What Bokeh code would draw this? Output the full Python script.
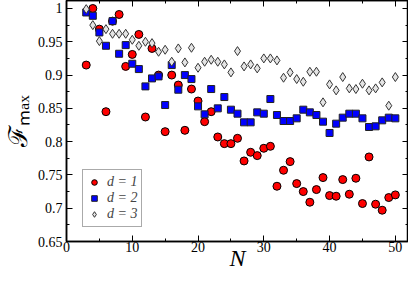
from bokeh.plotting import figure
from bokeh.models import (Range1d, LinearAxis, SingleIntervalTicker, Legend,
                          LegendItem, CustomJSTickFormatter)
from bokeh.embed import file_html
from bokeh.resources import INLINE

N = list(range(3, 51))
d1 = [0.915, 1.000, 0.969, 0.845, 0.981, 0.991, 0.913, 0.931, 0.961, 0.837,
      0.940, 0.900, 0.815, 0.900, 0.885, 0.817, 0.879, 0.861, 0.830, 0.845,
      0.807, 0.797, 0.797, 0.805, 0.771, 0.784, 0.779, 0.790, 0.793, 0.733,
      0.757, 0.770, 0.737, 0.725, 0.709, 0.728, 0.746, 0.719, 0.718, 0.743,
      0.721, 0.745, 0.707, 0.777, 0.706, 0.697, 0.716, 0.720]
d2 = [0.994, 0.989, 0.964, 0.944, 0.981, 0.932, 0.945, 0.917, 0.909, 0.883,
      0.895, 0.898, 0.855, 0.915, 0.878, 0.900, 0.894, 0.853, 0.841, 0.879,
      0.850, 0.867, 0.848, 0.842, 0.829, 0.829, 0.844, 0.842, 0.864, 0.840,
      0.831, 0.831, 0.835, 0.848, 0.844, 0.840, 0.830, 0.813, 0.827, 0.836,
      0.842, 0.842, 0.835, 0.822, 0.823, 0.832, 0.836, 0.835]
d3 = [0.999, 0.975, 0.951, 0.969, 0.962, 0.962, 0.962, 0.953, 0.944, 0.950,
      0.948, 0.935, 0.938, 0.920, 0.940, 0.919, 0.941, 0.911, 0.920, 0.923,
      0.920, 0.916, 0.904, 0.936, 0.913, 0.916, 0.910, 0.925, 0.925, 0.922,
      0.896, 0.904, 0.894, 0.890, 0.905, 0.905, 0.859, 0.886, 0.877, 0.897,
      0.880, 0.879, 0.887, 0.877, 0.880, 0.889, 0.854, 0.897]
labels = ["d = 1", "d = 2", "d = 3"]
x_label = "N"
y_label = "\u2131\u2098\u2090\u2093"

FONT = "Liberation Serif"

p = figure(width=408, height=273, output_backend="svg", toolbar_location=None,
           x_range=Range1d(0, 52), y_range=Range1d(0.65, 1.012),
           min_border_left=56, min_border_right=0, min_border_top=0,
           min_border_bottom=0, background_fill_color="white",
           border_fill_color="white")
p.grid.visible = False
p.outline_line_color = "black"
p.outline_line_width = 1.5

p.xaxis.ticker = SingleIntervalTicker(interval=10, num_minor_ticks=2)
p.yaxis.ticker = SingleIntervalTicker(interval=0.05, num_minor_ticks=2)
p.yaxis.formatter = CustomJSTickFormatter(code="return String(+tick.toFixed(3));")

for ax in (p.xaxis[0], p.yaxis[0]):
    ax.axis_line_color = "black"
    ax.axis_line_width = 1.5
    ax.major_tick_in = 6
    ax.major_tick_out = 0
    ax.minor_tick_in = 3
    ax.minor_tick_out = 0
    ax.major_tick_line_color = "black"
    ax.minor_tick_line_color = "black"
    ax.major_label_text_font = FONT
    ax.major_label_text_font_size = "14px"
    ax.major_label_text_color = "black"
    ax.axis_label_text_font = FONT
    ax.axis_label_text_color = "black"

p.xaxis.axis_label = x_label
p.xaxis.axis_label_text_font_size = "24px"
p.xaxis.axis_label_text_font_style = "italic"
p.xaxis.axis_label_standoff = -10
p.xaxis.major_label_standoff = 0
p.yaxis.axis_label = y_label
p.yaxis.axis_label_text_font_size = "26px"
p.yaxis.axis_label_text_font_style = "normal"
p.yaxis.axis_label_standoff = 2
p.yaxis.major_label_standoff = 4

blank = CustomJSTickFormatter(code="return '';")
top = LinearAxis(ticker=SingleIntervalTicker(interval=10, num_minor_ticks=2),
                 formatter=blank, major_label_text_color=None,
                 major_label_standoff=0, axis_label_standoff=0,
                 major_tick_in=6, major_tick_out=0, minor_tick_in=3, minor_tick_out=0,
                 axis_line_color="black", axis_line_width=1.5)
right = LinearAxis(ticker=SingleIntervalTicker(interval=0.05, num_minor_ticks=2),
                   formatter=blank, major_label_text_color=None,
                   major_label_standoff=0, axis_label_standoff=0,
                   major_tick_in=6, major_tick_out=0, minor_tick_in=3, minor_tick_out=0,
                   axis_line_color="black", axis_line_width=1.5)
p.add_layout(top, "above")
p.add_layout(right, "right")

r1 = p.scatter(N, d1, marker="circle", size=8, fill_color="#ff0000",
               line_color="black", line_width=1)
r2 = p.scatter(N, d2, marker="square", size=7, fill_color="#0000ff",
               line_color="#222222", line_width=1)
r3 = p.scatter(N, d3, marker="diamond", size=9, fill_color="#e4e4e4",
               line_color="#333333", line_width=1)

legend = Legend(items=[LegendItem(label=labels[0], renderers=[r1]),
                       LegendItem(label=labels[1], renderers=[r2]),
                       LegendItem(label=labels[2], renderers=[r3])],
                location=(16, 14), label_text_font=FONT,
                label_text_font_size="14px", label_text_font_style="italic",
                border_line_color="#555555", border_line_width=1,
                background_fill_color="white", background_fill_alpha=1,
                padding=4, spacing=0, margin=0, glyph_width=14, glyph_height=16,
                label_height=16, label_standoff=6)
p.add_layout(legend)

open("out.html", "w").write(file_html(p, INLINE))
